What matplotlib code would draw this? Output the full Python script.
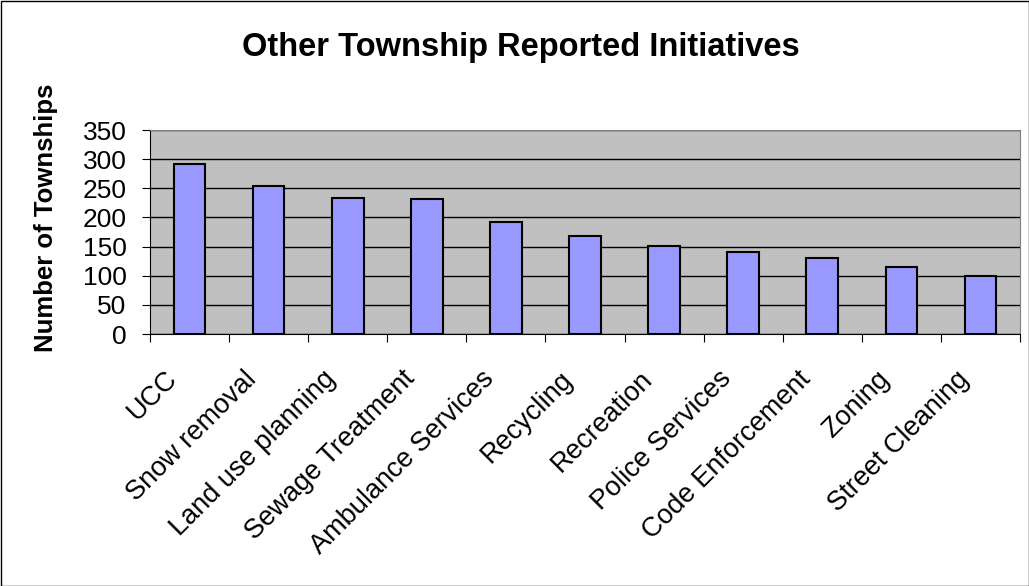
import matplotlib
matplotlib.use("Agg")
import matplotlib.pyplot as plt
from matplotlib.transforms import ScaledTranslation
import numpy as np

categories = ["UCC", "Snow removal", "Land use planning", "Sewage Treatment",
              "Ambulance Services", "Recycling", "Recreation", "Police Services",
              "Code Enforcement", "Zoning", "Street Cleaning"]
values = [292, 254, 234, 231, 192, 168, 151, 140, 130, 115, 99]
yticks = [0, 50, 100, 150, 200, 250, 300, 350]

plt.rcParams['font.family'] = ['Liberation Sans', 'DejaVu Sans']

fig = plt.figure(figsize=(10.29, 5.86), dpi=100)
ax = fig.add_axes([150/1029, 1-334/586, 870/1029, 204/586])
ax.set_facecolor('#C0C0C0')
x = np.arange(len(categories))
ax.bar(x, values, width=0.4, color='#9999FF', edgecolor='black', linewidth=1.5, zorder=3)
ax.set_xlim(-0.5, len(categories)-0.5)
ax.set_ylim(0, 350)
ax.set_yticks(yticks)
ax.set_yticklabels([str(v) for v in yticks], fontsize=19)
ax.yaxis.grid(True, color='black', linewidth=1, zorder=1)
ax.set_axisbelow(True)
ax.set_xticks(np.arange(len(categories)+1)-0.5, minor=False)
ax.set_xticklabels([])
ax.set_xticks(x, minor=True)
ax.set_xticklabels(categories, minor=True, rotation=45, ha='right', va='top',
                   rotation_mode='anchor', fontsize=19.5)
ax.tick_params(axis='x', which='minor', length=0, pad=10)
ax.tick_params(axis='x', which='major', length=6, direction='out', color='black')
ax.tick_params(axis='y', length=6, direction='out', pad=11)
for lbl in ax.get_xticklabels(minor=True):
    lbl.set_transform(lbl.get_transform() + ScaledTranslation(-0.25, -0.18, fig.dpi_scale_trans))
for s in ['top', 'right']:
    ax.spines[s].set_color('#808080')
for s in ['left', 'bottom']:
    ax.spines[s].set_color('black')
fig.text(46/1029, 1-218/586, 'Number of Townships', rotation=90, ha='center', va='center',
         fontsize=18.5, fontweight='bold')
fig.text(521/1029, 1-56/586, 'Other Township Reported Initiatives', ha='center', va='baseline',
         fontsize=23.5, fontweight='bold')
border = plt.Rectangle((0.5/1029, 0.5/586), 1-1/1029, 1-1/586, transform=fig.transFigure,
                       fill=False, edgecolor='black', linewidth=1)
fig.patches.append(border)
fig.savefig('out.png', dpi=100)
